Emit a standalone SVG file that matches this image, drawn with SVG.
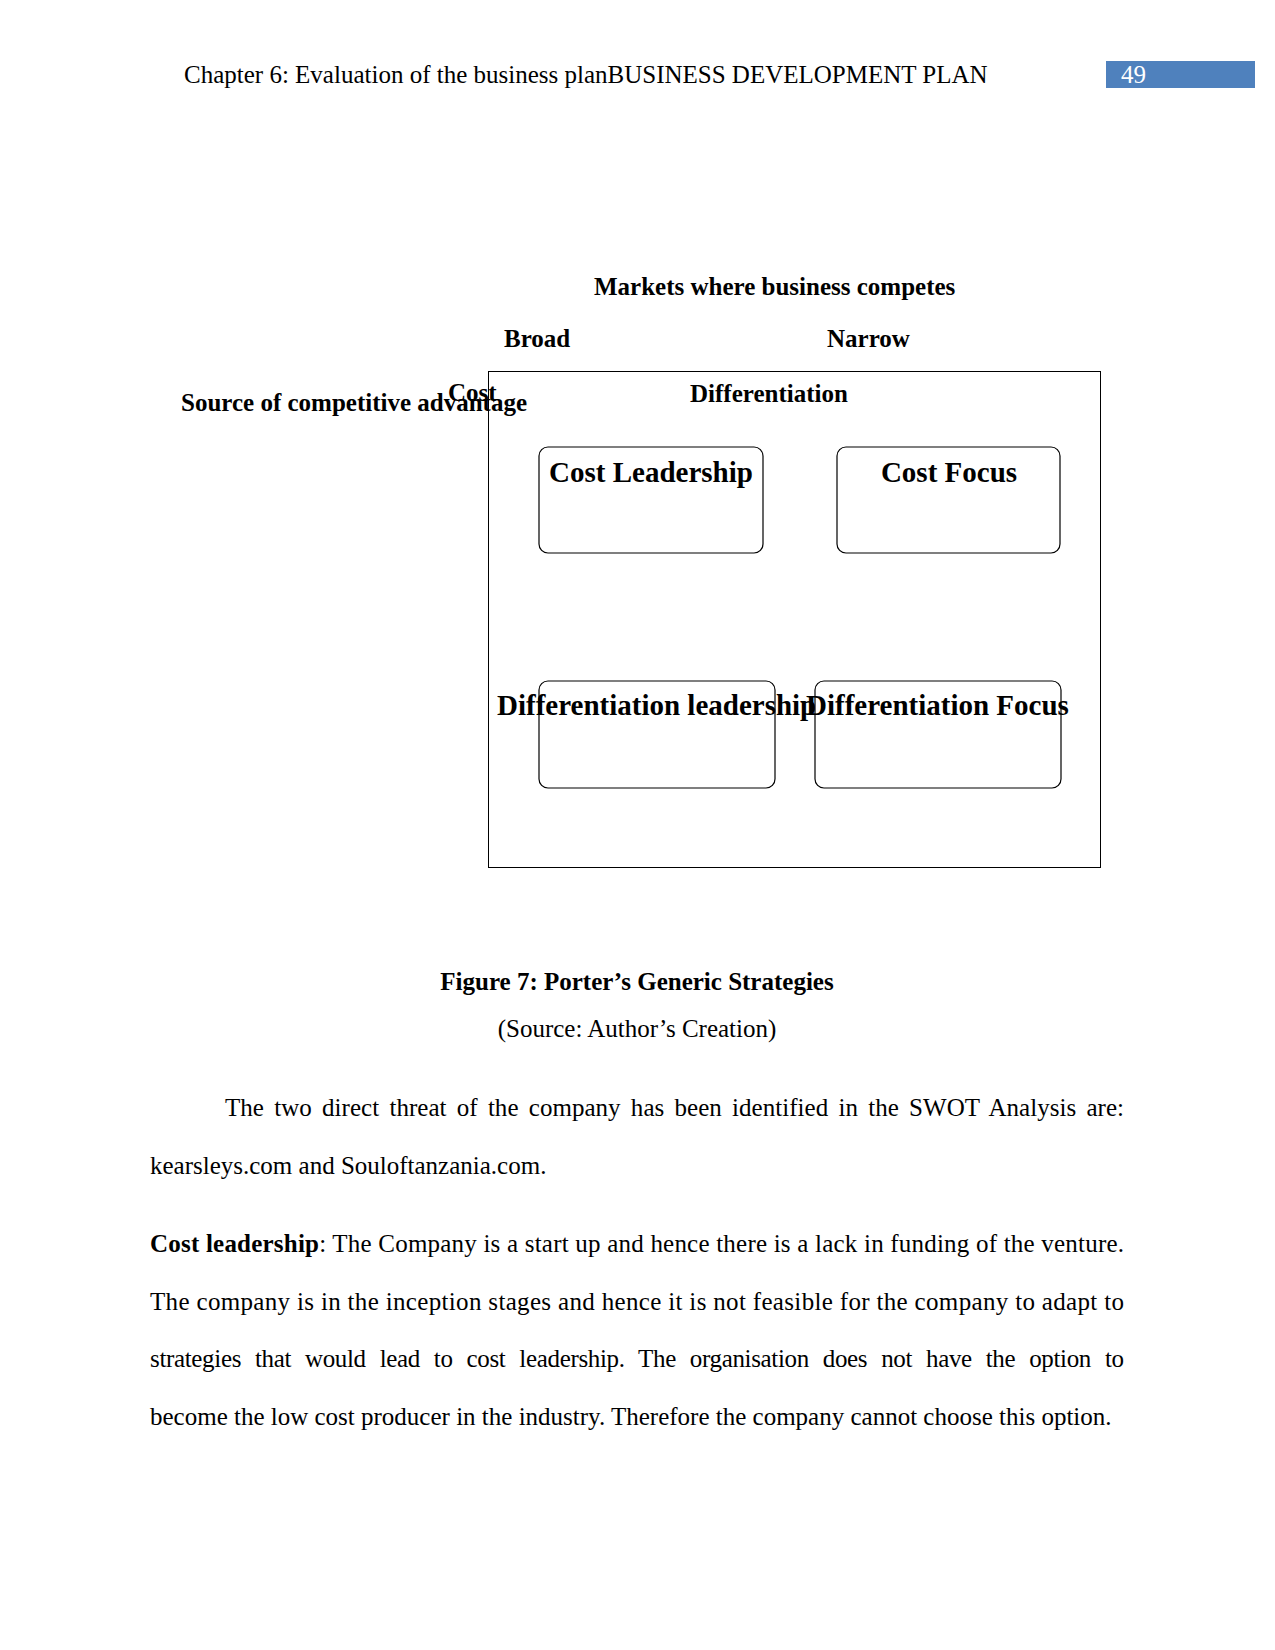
<svg xmlns="http://www.w3.org/2000/svg" width="1275" height="1650" viewBox="0 0 1275 1650">
<style>
text{font-family:"Liberation Serif","Times New Roman",serif;fill:#000}
.h{font-size:25px}
.b{font-size:25px;font-weight:bold}
.nb{font-size:29px;font-weight:bold}
.box{fill:#fff;stroke:#000;stroke-width:1.2}
.p{font-size:25px}
</style>
<rect width="1275" height="1650" fill="#fff"/>
<g id="header">
<text class="h" x="184" y="83">Chapter 6: Evaluation of the business planBUSINESS DEVELOPMENT PLAN</text>
<rect x="1106" y="61" width="149" height="27" fill="#4F81BD"/>
<text class="h" x="1121" y="83" style="fill:#fff">49</text>
</g>
<g id="axis-labels">
<text class="b" x="594" y="295">Markets where business competes</text>
<text class="b" x="504" y="347">Broad</text>
<text class="b" x="827" y="347">Narrow</text>
</g>
<g id="frame">
<rect x="488.5" y="371.5" width="612" height="496" fill="none" stroke="#000" stroke-width="1"/>
</g>
<g id="side-labels">
<text class="b" x="181" y="411">Source of competitive advantage</text>
<text class="b" x="448" y="401">Cost</text>
<text class="b" x="690" y="402">Differentiation</text>
</g>
<g id="node-cost-leadership">
<rect class="box" x="539" y="447" width="224" height="106" rx="9"/>
<text class="nb" x="651" y="482" text-anchor="middle">Cost Leadership</text>
</g>
<g id="node-cost-focus">
<rect class="box" x="837" y="447" width="223" height="106" rx="9"/>
<text class="nb" x="949" y="482" text-anchor="middle">Cost Focus</text>
</g>
<g id="node-differentiation-leadership">
<rect class="box" x="539" y="681" width="236" height="107" rx="9"/>
<text class="nb" x="497" y="715">Differentiation leadership</text>
</g>
<g id="node-differentiation-focus">
<rect class="box" x="815" y="681" width="246" height="107" rx="9"/>
<text class="nb" x="806" y="715">Differentiation Focus</text>
</g>
<g id="caption">
<text class="b" x="637" y="990" text-anchor="middle">Figure 7: Porter’s Generic Strategies</text>
<text class="h" x="637" y="1037" text-anchor="middle">(Source: Author’s Creation)</text>
</g>
<g id="body">
<text class="p" x="225" y="1116" textLength="899" lengthAdjust="spacing" style="word-spacing:4px">The two direct threat of the company has been identified in the SWOT Analysis are:</text>
<text class="p" x="150" y="1174">kearsleys.com and Souloftanzania.com.</text>
<text class="p" x="150" y="1252" textLength="974" lengthAdjust="spacing"><tspan font-weight="bold">Cost leadership</tspan>: The Company is a start up and hence there is a lack in funding of the venture.</text>
<text class="p" x="150" y="1310" textLength="974" lengthAdjust="spacing">The company is in the inception stages and hence it is not feasible for the company to adapt to</text>
<text class="p" x="150" y="1367" textLength="974" lengthAdjust="spacing" style="word-spacing:8px">strategies that would lead to cost leadership. The organisation does not have the option to</text>
<text class="p" x="150" y="1425">become the low cost producer in the industry. Therefore the company cannot choose this option.</text>
</g>
</svg>
